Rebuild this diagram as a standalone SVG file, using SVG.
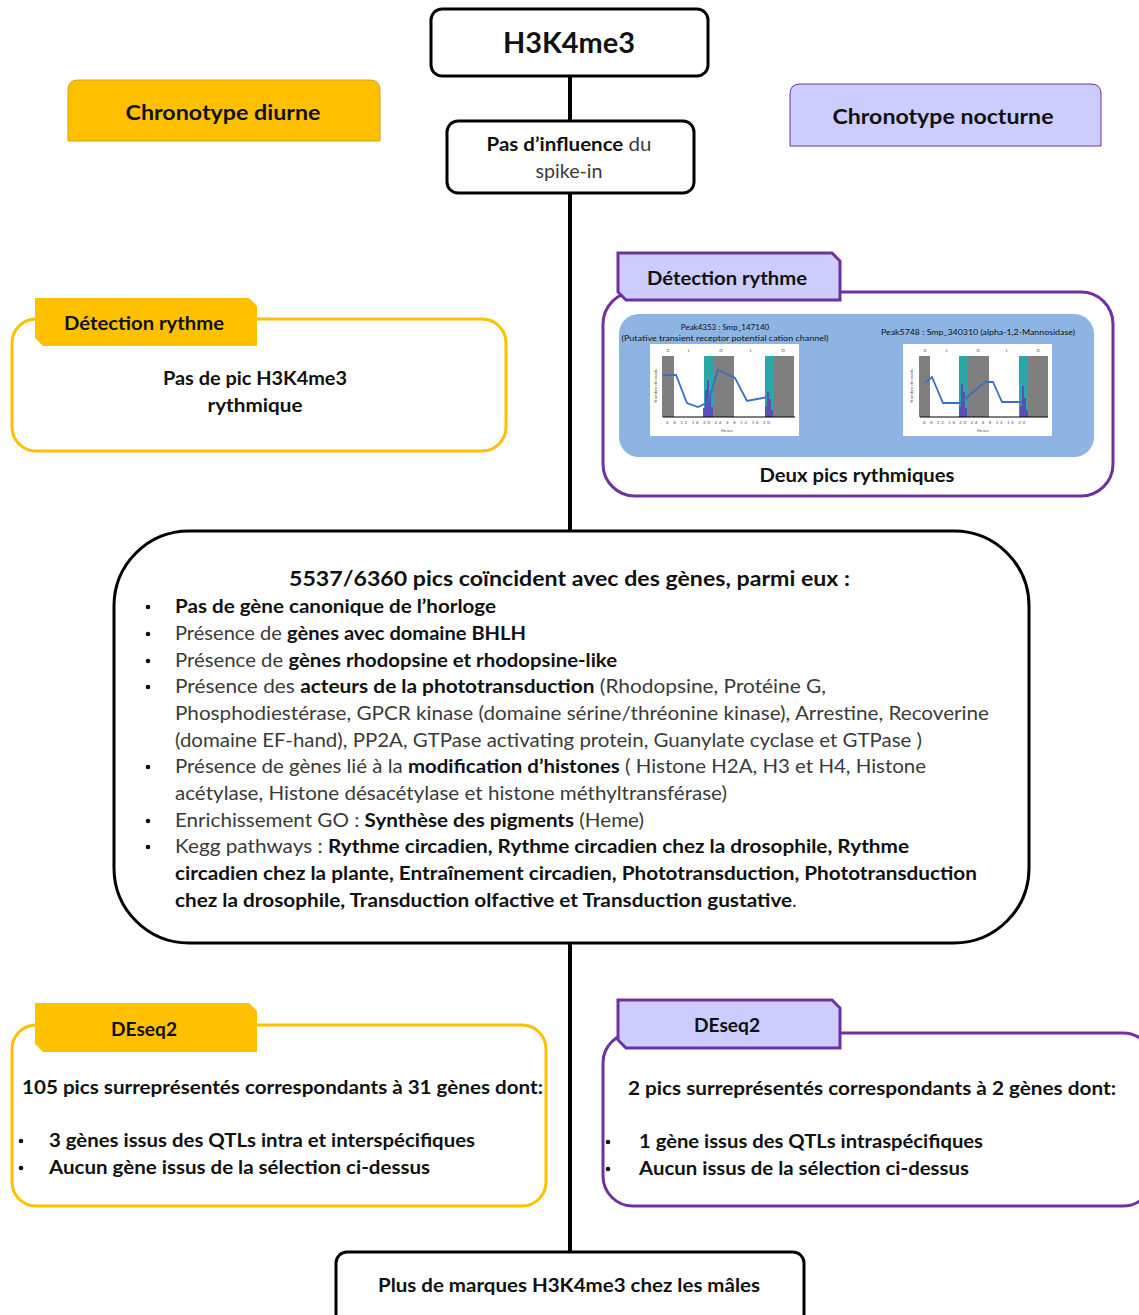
<svg xmlns="http://www.w3.org/2000/svg" width="1139" height="1315" viewBox="0 0 1139 1315">
<style>
text{font-family:Lato,"Open Sans","Liberation Sans",sans-serif;fill:#111}
.b{font-weight:bold}
.r{font-weight:normal;fill:#3a3a3a}
.t18{font-size:19px}
.box{fill:#fff;stroke:#000;stroke-width:3}
.ybox{fill:#fff;stroke:#FFC000;stroke-width:3}
.pbox{fill:#fff;stroke:#7030A0;stroke-width:3}
.ytab{fill:#FFC000}
.ptab{fill:#CCCCFF;stroke:#7030A0;stroke-width:3}
.tiny{font-size:4.5px;fill:#555;font-weight:normal}
.gray{fill:#7f7f7f}
.teal{fill:#2aa8a8}
.hist{fill:#5a4fb8}
.curve{fill:none;stroke:#3a6fc4;stroke-width:1.8}
.axis{stroke:#000;stroke-width:1}
.bul{fill:#111}
</style>
<g id="connectors">
<line x1="570" y1="76" x2="570" y2="1252" stroke="#000" stroke-width="4"/>
</g>
<g id="h3k4me3">
<rect class="box" x="431" y="9" width="277" height="67" rx="11"/>
<text class="b" x="569" y="53" font-size="29" text-anchor="middle" textLength="132" lengthAdjust="spacingAndGlyphs">H3K4me3</text>
</g>
<g id="chronotype-diurne">
<path d="M68,141 V90 Q68,80 78,80 H370 Q380,80 380,90 V141 Z" fill="#FFC000" stroke="#D9A400" stroke-width="1"/>
<text class="b" x="223" y="120" font-size="21" text-anchor="middle" textLength="195" lengthAdjust="spacingAndGlyphs">Chronotype diurne</text>
</g>
<g id="chronotype-nocturne">
<path d="M790,146 V94 Q790,84 800,84 H1091 Q1101,84 1101,94 V146 Z" fill="#CCCCFF" stroke="#7030A0" stroke-width="1"/>
<text class="b" x="943" y="124" font-size="21" text-anchor="middle" textLength="221" lengthAdjust="spacingAndGlyphs">Chronotype nocturne</text>
</g>
<g id="spike-in">
<rect class="box" x="447" y="121" width="247" height="72" rx="11"/>
<text class="t18" x="569" y="151" text-anchor="middle" textLength="165" lengthAdjust="spacingAndGlyphs"><tspan class="b">Pas d’influence</tspan><tspan class="r"> du</tspan></text>
<text class="t18 r" x="569" y="178" text-anchor="middle" textLength="67" lengthAdjust="spacingAndGlyphs">spike-in</text>
</g>
<g id="detection-diurne">
<rect class="ybox" x="12" y="319" width="494" height="132" rx="24"/>
<path class="ytab" d="M35,298 H249 L257,306 V346 H43 L35,338 Z"/>
<text class="b t18" x="144" y="330" text-anchor="middle" textLength="160" lengthAdjust="spacingAndGlyphs">Détection rythme</text>
<text class="b t18" x="255" y="385" text-anchor="middle" textLength="184" lengthAdjust="spacingAndGlyphs">Pas de pic H3K4me3</text>
<text class="b t18" x="255" y="412" text-anchor="middle" textLength="95" lengthAdjust="spacingAndGlyphs">rythmique</text>
</g>
<g id="detection-nocturne">
<rect class="pbox" x="603" y="292" width="510" height="204" rx="32"/>
<path class="ptab" d="M618,253 H832 L840,261 V300 H626 L618,292 Z"/>
<text class="b t18" x="727" y="285" text-anchor="middle" textLength="160" lengthAdjust="spacingAndGlyphs">Détection rythme</text>
<rect x="619" y="314" width="475" height="143" rx="20" fill="#8DB4E2"/>
<text x="725" y="330" font-size="8" fill="#333" text-anchor="middle">Peak4353 : Smp_147140</text>
<text x="725" y="341" font-size="8" fill="#333" text-anchor="middle" textLength="207" lengthAdjust="spacingAndGlyphs">(Putative transient receptor potential cation channel)</text>
<text x="978" y="335" font-size="8" fill="#333" text-anchor="middle" textLength="194" lengthAdjust="spacingAndGlyphs">Peak5748 : Smp_340310 (alpha-1,2-Mannosidase)</text>
<g transform="translate(650,344)">
<rect x="0" y="0" width="149" height="92" fill="#fff"/>
<rect class="gray" x="14" y="12" width="10" height="61"/>
<rect class="teal" x="54" y="12" width="10" height="61"/>
<rect class="gray" x="64" y="12" width="20" height="61"/>
<rect class="teal" x="115" y="12" width="9" height="61"/>
<rect class="gray" x="124" y="12" width="20" height="61"/>
<rect class="hist" x="53" y="64" width="2" height="9"/>
<rect class="hist" x="55" y="46" width="2" height="27"/>
<rect class="hist" x="57" y="36" width="2" height="37"/>
<rect class="hist" x="59" y="52" width="2" height="21"/>
<rect class="hist" x="61" y="63" width="2" height="10"/>
<rect class="hist" x="115" y="62" width="2" height="11"/>
<rect class="hist" x="117" y="48" width="2" height="25"/>
<rect class="hist" x="119" y="55" width="2" height="18"/>
<rect class="hist" x="121" y="66" width="2" height="7"/>
<line class="axis" x1="13" y1="12" x2="13" y2="73"/>
<line class="axis" x1="13" y1="73" x2="145" y2="73"/>
<polyline class="curve" points="13,31 26,31 37,59 48,63 58,58 68,26 85,34 97,57 118,53"/>
<text class="tiny" x="18" y="8" text-anchor="middle">O</text>
<text class="tiny" x="39" y="8" text-anchor="middle">L</text>
<text class="tiny" x="71" y="8" text-anchor="middle">O</text>
<text class="tiny" x="101" y="8" text-anchor="middle">L</text>
<text class="tiny" x="133" y="8" text-anchor="middle">O</text>
<text class="tiny" x="16" y="80" textLength="104" lengthAdjust="spacing">4 8 12 16 20 24 4 8 12 16 20</text>
<text class="tiny" x="77" y="88" text-anchor="middle">Heure</text>
<text class="tiny" transform="translate(7,42) rotate(-90)" text-anchor="middle">Nombre de reads</text>
</g>
<g transform="translate(903,344)">
<rect x="0" y="0" width="149" height="92" fill="#fff"/>
<rect class="gray" x="18" y="12" width="9" height="61"/>
<rect class="teal" x="56" y="12" width="9" height="61"/>
<rect class="gray" x="65" y="12" width="21" height="61"/>
<rect class="teal" x="116" y="12" width="9" height="61"/>
<rect class="gray" x="125" y="12" width="20" height="61"/>
<rect class="hist" x="56" y="62" width="2" height="11"/>
<rect class="hist" x="58" y="40" width="2" height="33"/>
<rect class="hist" x="60" y="48" width="2" height="25"/>
<rect class="hist" x="62" y="64" width="2" height="9"/>
<rect class="hist" x="117" y="62" width="2" height="11"/>
<rect class="hist" x="119" y="42" width="2" height="31"/>
<rect class="hist" x="121" y="54" width="2" height="19"/>
<rect class="hist" x="123" y="66" width="2" height="7"/>
<line class="axis" x1="17" y1="12" x2="17" y2="73"/>
<line class="axis" x1="17" y1="73" x2="145" y2="73"/>
<polyline class="curve" points="22,39 29,33 40,59 57,59 82,38 90,38 99,58 119,58"/>
<text class="tiny" x="22" y="8" text-anchor="middle">O</text>
<text class="tiny" x="44" y="8" text-anchor="middle">L</text>
<text class="tiny" x="75" y="8" text-anchor="middle">O</text>
<text class="tiny" x="104" y="8" text-anchor="middle">L</text>
<text class="tiny" x="135" y="8" text-anchor="middle">O</text>
<text class="tiny" x="20" y="80" textLength="102" lengthAdjust="spacing">4 8 12 16 20 24 4 8 12 16 20</text>
<text class="tiny" x="80" y="88" text-anchor="middle">Heure</text>
<text class="tiny" transform="translate(10,42) rotate(-90)" text-anchor="middle">Nombre de reads</text>
</g>
<text class="b t18" x="857" y="482" text-anchor="middle" textLength="195" lengthAdjust="spacingAndGlyphs">Deux pics rythmiques</text>
</g>
<g id="genes-summary">
<rect class="box" x="114" y="531" width="915" height="412" rx="75"/>
<text class="b" x="289" y="586" font-size="20" textLength="561" lengthAdjust="spacingAndGlyphs">5537/6360 pics coïncident avec des gènes, parmi eux :</text>
<g class="bul">
<circle cx="148" cy="607" r="2.3"/><circle cx="148" cy="634" r="2.3"/><circle cx="148" cy="661" r="2.3"/><circle cx="148" cy="687" r="2.3"/><circle cx="148" cy="767" r="2.3"/><circle cx="148" cy="821" r="2.3"/><circle cx="148" cy="847" r="2.3"/>
</g>
<text class="t18" x="175" y="613" textLength="321" lengthAdjust="spacingAndGlyphs"><tspan class="b">Pas de gène canonique de l’horloge</tspan></text>
<text class="t18" x="175" y="640" textLength="351" lengthAdjust="spacingAndGlyphs"><tspan class="r">Présence de </tspan><tspan class="b">gènes avec domaine BHLH</tspan></text>
<text class="t18" x="175" y="667" textLength="442" lengthAdjust="spacingAndGlyphs"><tspan class="r">Présence de </tspan><tspan class="b">gènes rhodopsine et rhodopsine-like</tspan></text>
<text class="t18" x="175" y="693" textLength="651" lengthAdjust="spacingAndGlyphs"><tspan class="r">Présence des </tspan><tspan class="b">acteurs de la phototransduction</tspan><tspan class="r"> (Rhodopsine, Protéine G,</tspan></text>
<text class="t18 r" x="175" y="720" textLength="814" lengthAdjust="spacingAndGlyphs">Phosphodiestérase, GPCR kinase (domaine sérine/thréonine kinase), Arrestine, Recoverine</text>
<text class="t18 r" x="175" y="747" textLength="747" lengthAdjust="spacingAndGlyphs">(domaine EF-hand), PP2A, GTPase activating protein, Guanylate cyclase et GTPase )</text>
<text class="t18" x="175" y="773" textLength="751" lengthAdjust="spacingAndGlyphs"><tspan class="r">Présence de gènes lié à la </tspan><tspan class="b">modification d’histones</tspan><tspan class="r"> ( Histone H2A, H3 et H4, Histone</tspan></text>
<text class="t18 r" x="175" y="800" textLength="552" lengthAdjust="spacingAndGlyphs">acétylase, Histone désacétylase et histone méthyltransférase)</text>
<text class="t18" x="175" y="827" textLength="469" lengthAdjust="spacingAndGlyphs"><tspan class="r">Enrichissement GO : </tspan><tspan class="b">Synthèse des pigments</tspan><tspan class="r"> (Heme)</tspan></text>
<text class="t18" x="175" y="853" textLength="734" lengthAdjust="spacingAndGlyphs"><tspan class="r">Kegg pathways : </tspan><tspan class="b">Rythme circadien, Rythme circadien chez la drosophile, Rythme</tspan></text>
<text class="t18 b" x="175" y="880" textLength="802" lengthAdjust="spacingAndGlyphs">circadien chez la plante, Entraînement circadien, Phototransduction, Phototransduction</text>
<text class="t18" x="175" y="907" textLength="622" lengthAdjust="spacingAndGlyphs"><tspan class="b">chez la drosophile, Transduction olfactive et Transduction gustative</tspan><tspan class="r">.</tspan></text>
</g>
<g id="deseq2-diurne">
<rect class="ybox" x="12" y="1025" width="534" height="181" rx="24"/>
<path class="ytab" d="M35,1003 H249 L257,1011 V1052 H43 L35,1044 Z"/>
<text class="b t18" x="144" y="1036" text-anchor="middle" textLength="66" lengthAdjust="spacingAndGlyphs">DEseq2</text>
<text class="b t18" x="22" y="1094" textLength="521" lengthAdjust="spacingAndGlyphs">105 pics surreprésentés correspondants à 31 gènes dont:</text>
<circle class="bul" cx="21" cy="1141" r="2.3"/><circle class="bul" cx="21" cy="1168" r="2.3"/>
<text class="b t18" x="49" y="1147" textLength="426" lengthAdjust="spacingAndGlyphs">3 gènes issus des QTLs intra et interspécifiques</text>
<text class="b t18" x="49" y="1174" textLength="381" lengthAdjust="spacingAndGlyphs">Aucun gène issus de la sélection ci-dessus</text>
</g>
<g id="deseq2-nocturne">
<rect class="pbox" x="603" y="1033" width="550" height="173" rx="30"/>
<path class="ptab" d="M618,1000 H832 L840,1008 V1048 H626 L618,1040 Z"/>
<text class="b t18" x="727" y="1032" text-anchor="middle" textLength="66" lengthAdjust="spacingAndGlyphs">DEseq2</text>
<text class="b t18" x="628" y="1095" textLength="488" lengthAdjust="spacingAndGlyphs">2 pics surreprésentés correspondants à 2 gènes dont:</text>
<circle class="bul" cx="608" cy="1142" r="2.3"/><circle class="bul" cx="608" cy="1169" r="2.3"/>
<text class="b t18" x="639" y="1148" textLength="344" lengthAdjust="spacingAndGlyphs">1 gène issus des QTLs intraspécifiques</text>
<text class="b t18" x="639" y="1175" textLength="330" lengthAdjust="spacingAndGlyphs">Aucun issus de la sélection ci-dessus</text>
</g>
<g id="males">
<rect class="box" x="336" y="1252" width="468" height="80" rx="11"/>
<text class="b t18" x="569" y="1292" text-anchor="middle" textLength="382" lengthAdjust="spacingAndGlyphs">Plus de marques H3K4me3 chez les mâles</text>
</g>
</svg>
